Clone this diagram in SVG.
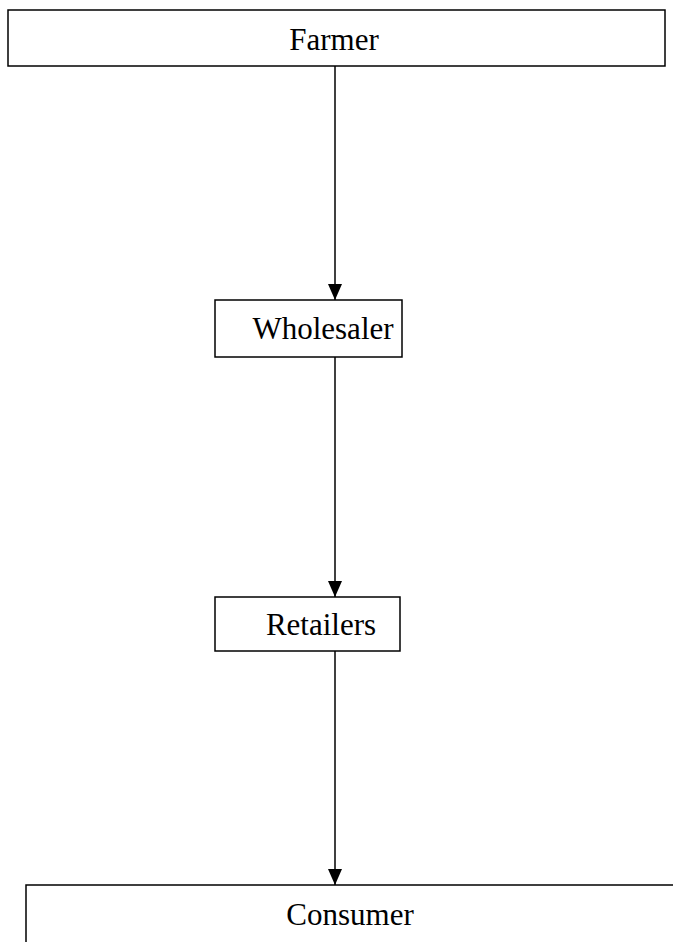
<svg xmlns="http://www.w3.org/2000/svg" width="673" height="942" viewBox="0 0 673 942">
<style>
.box{fill:#fff;stroke:#000;stroke-width:1.5}
.lbl{font-family:"Liberation Serif",serif;font-size:31px;fill:#000;text-anchor:middle}
.con{stroke:#000;stroke-width:1.5;fill:none}
</style>
<defs>
<marker id="ah" viewBox="0 0 16 14" refX="16" refY="7" markerWidth="16" markerHeight="14" markerUnits="userSpaceOnUse" orient="auto">
<path d="M0,0 L16,7 L0,14 Z" fill="#000"/>
</marker>
</defs>
<rect width="673" height="942" fill="#fff"/>
<g id="connectors">
<line class="con" x1="335" y1="66" x2="335" y2="300" marker-end="url(#ah)"/>
<line class="con" x1="335" y1="357" x2="335" y2="597" marker-end="url(#ah)"/>
<line class="con" x1="335" y1="651" x2="335" y2="885" marker-end="url(#ah)"/>
</g>
<g id="farmer">
<rect class="box" x="8" y="10" width="657" height="56"/>
<text class="lbl" x="334" y="50">Farmer</text>
</g>
<g id="wholesaler">
<rect class="box" x="215" y="300" width="187" height="57"/>
<text class="lbl" x="323" y="339">Wholesaler</text>
</g>
<g id="retailers">
<rect class="box" x="215" y="597" width="185" height="54"/>
<text class="lbl" x="321" y="635">Retailers</text>
</g>
<g id="consumer">
<path class="con" d="M26,942 L26,885 L673,885"/>
<text class="lbl" x="350" y="925">Consumer</text>
</g>
</svg>
